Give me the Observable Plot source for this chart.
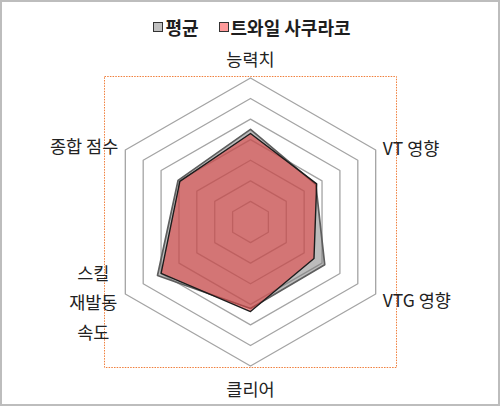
<!DOCTYPE html>
<html>
<head>
<meta charset="utf-8">
<script src="https://cdn.jsdelivr.net/npm/d3@7"></script>
<script src="https://cdn.jsdelivr.net/npm/@observablehq/plot@0.6"></script>
<style>
  html, body { margin: 0; padding: 0; background: #fff; }
  #chart {
    position: relative; width: 500px; height: 406px; box-sizing: border-box;
    outline: 2px solid #bdbdbd; outline-offset: -2px; background: #fff;
    font-family: "Noto Sans CJK KR", "Noto Sans", sans-serif; overflow: hidden;
  }
  #legend {
    height: 40px; box-sizing: border-box; padding-top: 13px;
    display: flex; justify-content: center; align-items: center;
    font-size: 18px; font-weight: 700; color: #1e1e1e; padding-left: 4px;
  }
  .item { display: flex; align-items: center; margin: 0 10px; }
  .sw { width: 8px; height: 8px; border: 1.5px solid #333; margin-right: 2px; }
  svg { display: block; overflow: visible; }
</style>
</head>
<body>
<div id="chart"><div id="legend"></div></div>
<script>
const axes = ["능력치", "VT 영향", "VTG 영향", "클리어", "스킬 재발동 속도", "종합 점수"];
const seriesNames = ["평균", "트와일 사쿠라코"];
const averageValues = [4.5, 3.65, 4.15, 4.2, 5.2, 4.05];
const sakurakoValues = [4.3, 3.7, 3.55, 4.35, 5.0, 3.95];
const ringLevels = [1, 2, 3, 4, 5, 6, 7];

const legendColors = ["#c0c0c0", "#ff9a9a"];
const labelLayout = [
  {dx: 0, dy: -21, anchor: "middle"},
  {dx: 7, dy: -4, anchor: "start"},
  {dx: 7, dy: 4, anchor: "start"},
  {dx: 0, dy: 20.5, anchor: "middle"},
  {dx: -32, dy: 6, anchor: "middle"},
  {dx: -7, dy: -6, anchor: "end"}
];

function polar(i, v) {
  const t = (90 - 60 * i) * Math.PI / 180;
  return {x: v * Math.cos(t), y: v * Math.sin(t)};
}
const maxLevel = d3.max(ringLevels);
const lim = maxLevel * 1.01;

const rings = ringLevels.flatMap(L => axes.map((a, i) => ({level: L, axis: a, ...polar(i, L)})));
const avgRows = axes.map((a, i) => ({series: seriesNames[0], axis: a, value: averageValues[i], ...polar(i, averageValues[i])}));
const sakRows = axes.map((a, i) => ({series: seriesNames[1], axis: a, value: sakurakoValues[i], ...polar(i, sakurakoValues[i])}));
const labelRows = axes.map((a, i) => ({axis: a, ...polar(i, maxLevel)}));

const labelMarks = labelRows.map((d, i) => Plot.text([d], {
  x: "x", y: "y",
  text: r => r.axis === "스킬 재발동 속도" ? "스킬\n재발동\n속도" : r.axis,
  dx: labelLayout[i].dx, dy: labelLayout[i].dy, textAnchor: labelLayout[i].anchor,
  lineHeight: 1.69, fontSize: 17.5, fill: "#222"
}));

const plot = Plot.plot({
  width: 500, height: 366,
  marginLeft: 104, marginRight: 104, marginTop: 36, marginBottom: 39,
  x: {axis: null, domain: [-lim, lim]},
  y: {axis: null, domain: [-lim, lim]},
  style: {fontFamily: '"Noto Sans CJK KR", "Noto Sans", sans-serif', background: "transparent"},
  marks: [
    Plot.frame({stroke: "#f07f3c", strokeDasharray: "1.5 1.2", strokeWidth: 1}),
    Plot.line(rings, {x: "x", y: "y", z: "level", curve: "linear-closed", stroke: "#a4a4a4", strokeWidth: 1.3}),
    Plot.line(avgRows, {x: "x", y: "y", curve: "linear-closed", fill: "#7a7a7a", fillOpacity: 0.5, stroke: "#5e5e5e", strokeWidth: 1.7}),
    Plot.line(sakRows, {x: "x", y: "y", curve: "linear-closed", fill: "#e53a3a", fillOpacity: 0.55, stroke: "#1c1c1c", strokeWidth: 1.4}),
    ...labelMarks
  ]
});

const legend = document.getElementById("legend");
seriesNames.forEach((n, i) => {
  const item = document.createElement("div");
  item.className = "item";
  const sw = document.createElement("div");
  sw.className = "sw";
  sw.style.background = legendColors[i];
  const t = document.createElement("span");
  t.textContent = n;
  item.appendChild(sw); item.appendChild(t);
  legend.appendChild(item);
});
document.getElementById("chart").appendChild(plot);
</script>
</body>
</html>
